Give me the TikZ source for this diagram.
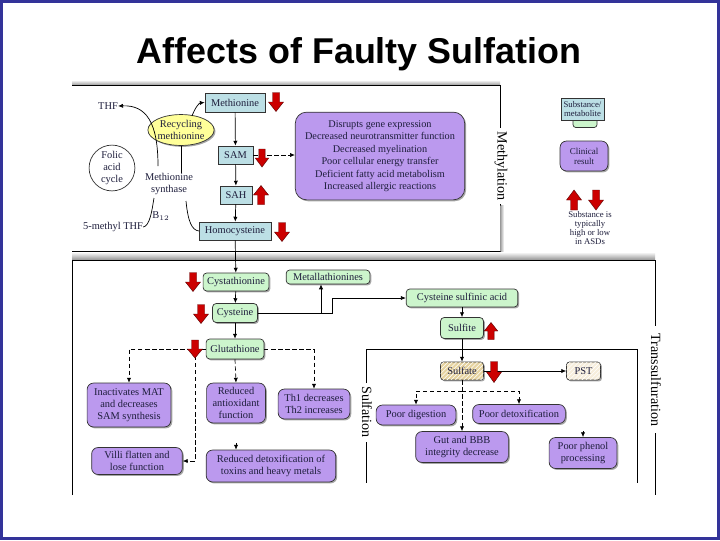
\documentclass[tikz,border=0pt]{standalone}
\usepackage{fontspec}
\setmainfont{Liberation Serif}
\newfontfamily\titlefont{Liberation Sans}
\usetikzlibrary{arrows.meta,shadows,patterns,shapes.geometric}
\definecolor{frameblue}{HTML}{333399}
\definecolor{boxblue}{HTML}{BCDFE5}
\definecolor{boxgreen}{HTML}{CCF5CC}
\definecolor{boxpurple}{HTML}{BB99EE}
\definecolor{boxtan}{HTML}{E6D3A0}
\definecolor{boxtanl}{HTML}{F7EEDC}
\definecolor{arrred}{HTML}{CC0000}
\definecolor{txt}{HTML}{1E1E3C}
\definecolor{ellyel}{HTML}{FFFF99}
\def\u{0.7087pt}
\begin{document}
\begin{tikzpicture}[x=0.025cm,y=-0.025cm,
  base/.style={draw=black!80, line width=0.5pt, text=txt, font=\fontsize{7.4}{8.7}\selectfont, align=center, inner sep=1pt,
    drop shadow={shadow xshift=1pt,shadow yshift=-1pt,opacity=0.35,fill=black}},
  bluebox/.style={base, fill=boxblue, rectangle},
  greenbox/.style={base, fill=boxgreen, rounded corners=2.5pt},
  purplebox/.style={base, fill=boxpurple, rounded corners=4.5pt},
  tanbox/.style={base, fill=#1, rounded corners=2pt, postaction={pattern=north east lines, pattern color=white}},
  sz/.style 2 args={minimum width=#1*\u, minimum height=#2*\u},
  lbl/.style={text=txt, font=\fontsize{7.4}{8.7}\selectfont, align=center, inner sep=0pt},
  conn/.style={draw=black, line width=0.5pt, -{Latex[length=3.5pt,width=3pt]}},
  dconn/.style={conn, dash pattern=on 3pt off 2pt},
  plain/.style={draw=black, line width=0.5pt},
  frameline/.style={draw=black, line width=0.7pt},
  side/.style={font=\fontsize{10}{10}\selectfont, text=black, rotate=-90, inner sep=0pt},
  redarrow/.pic={\path[draw=red!35!black, fill=arrred, line width=0.3pt] (-3.5,-10) -- (3.5,-10) -- (3.5,0) -- (7.5,0) -- (0,10) -- (-7.5,0) -- (-3.5,0) -- cycle;}
]
\useasboundingbox (0,0) rectangle (720,540);
\fill[white] (0,0) rectangle (720,540);
\draw[frameblue, line width=3.5*\u] (1.75,1.75) rectangle (718.25,538.25);

% title
\node[font=\titlefont\bfseries\fontsize{25.5}{29}\selectfont, anchor=base, inner sep=0pt] (title) at (359,63) {Affects of Faulty Sulfation};

% frames
\shade[top color=white, bottom color=black!35] (72,80) rectangle (500,84.5);
\draw[frameline] (72,85) -- (500,85) -- (500,128);
\draw[frameline] (500,204) -- (500,251) -- (72,251);
\shade[left color=black!35, right color=white] (500.5,205) rectangle (504,251);
\node[side] (methlbl) at (501,166) {Methylation};

\shade[top color=white, bottom color=black!40] (72,252) rectangle (655,259.5);
\draw[frameline] (72,495) -- (72,260) -- (655,260) -- (655,326);
\draw[frameline] (655,433) -- (655,495);
\node[side] (translbl) at (656,380) {Transsulfuration};

\draw[frameline] (366,383) -- (366,349) -- (637,349) -- (637,483);
\draw[frameline] (366,442) -- (366,483);
\node[side] (sulflbl) at (367,412) {Sulfation};

% methylation nodes
\node[bluebox, sz={60}{19}] (meth) at (235,102.5) {Methionine};
\node[bluebox, sz={35}{18}] (sam) at (235.5,155) {SAM};
\node[bluebox, sz={32}{18}] (sah) at (236,195) {SAH};
\node[bluebox, sz={72}{18}] (hcy) at (235,231) {Homocysteine};
\node[base, ellipse, fill=ellyel, sz={54}{31}, inner sep=0pt] (rec) at (181,130) {Recycling\\methionine};
\node[draw=black!80, line width=0.5pt, circle, fill=white, minimum size=46*\u, lbl] (folic) at (112,168) {Folic\\acid\\cycle};
\node[lbl] (thf) at (108,106) {THF};
\node[lbl] (msyn) at (169,184) {Methionine\\synthase};
\node[lbl] (b12) at (161,216) {B$_{12}$};
\node[lbl] (mthf) at (113,227) {5-methyl THF};
\node[purplebox, rounded corners=8pt, sz={170}{88}, font=\fontsize{7.3}{8.9}\selectfont] (clin) at (380,156)
  {Disrupts gene expression\\Decreased neurotransmitter function\\Decreased myelination\\Poor cellular energy transfer\\Deficient fatty acid metabolism\\Increased allergic reactions};

% legend
\fill[boxgreen, draw=black!80, line width=0.5pt, rounded corners=2pt] (573,115) -- (573,127.5) -- (597,127.5) -- (597,115);
\node[bluebox, sz={43}{22}, font=\fontsize{6.2}{6.9}\selectfont, inner sep=0pt] (leg1) at (582.5,109) {Substance/\\metabolite};
\node[purplebox, sz={48}{30}, font=\fontsize{6.4}{7.2}\selectfont] (leg2) at (584,156) {Clinical\\result};
\node[lbl, font=\fontsize{6.2}{6.6}\selectfont] (legtxt) at (590,228) {Substance is\\typically\\high or low\\in ASDs};

% transsulfuration nodes
\node[greenbox, sz={66}{18}] (cyst) at (236,282) {Cystathionine};
\node[greenbox, sz={84}{14}] (metal) at (328,277) {Metallathionines};
\node[greenbox, sz={45}{19}] (cys) at (235,313) {Cysteine};
\node[greenbox, sz={112}{18}] (csa) at (462,298) {Cysteine sulfinic acid};
\node[greenbox, sz={43}{21}] (sulfite) at (462,328) {Sulfite};
\node[greenbox, sz={58}{20}] (glut) at (235,349) {Glutathione};
\node[tanbox=boxtan, sz={43}{18}] (sulfate) at (462,371) {Sulfate};
\node[tanbox=boxtanl, sz={34}{18}] (pst) at (583.5,371) {PST};

\node[purplebox, sz={84}{44}] (inact) at (129,405) {Inactivates MAT\\and decreases\\SAM synthesis};
\node[purplebox, sz={59}{40}] (antiox) at (236,403) {Reduced\\antioxidant\\function};
\node[purplebox, sz={72}{30}] (th) at (314,404) {Th1 decreases\\Th2 increases};
\node[purplebox, sz={91}{27}] (villi) at (137,461) {Villi flatten and\\lose function};
\node[purplebox, sz={130}{32}] (detox) at (271,466) {Reduced detoxification of\\toxins and heavy metals};
\node[purplebox, sz={80}{20}] (pdig) at (416,415) {Poor digestion};
\node[purplebox, sz={93}{19}] (pdetox) at (519,414) {Poor detoxification};
\node[purplebox, sz={93}{31}] (gut) at (462,447) {Gut and BBB\\integrity decrease};
\node[purplebox, sz={68}{31}] (phenol) at (583,453) {Poor phenol\\processing};

% methylation connectors
\draw[conn] (meth) -- (sam);
\draw[conn] (sam) -- (sah);
\draw[conn] (sah) -- (hcy);
\draw[dconn] (sam.east) -- (clin.west |- sam.east);
\draw[conn] (158,166) .. controls (158,122) and (146,105) .. (thf.east);
\draw[conn] (192,116) .. controls (195,108) and (199,103) .. (meth.west);
\draw[plain] (rec.south) -- (rec.south |- msyn.north);
\draw[plain] (mthf.east) .. controls (150,226) and (152,210) .. (154,198);
\draw[plain] (186,201) .. controls (188,222) and (192,230) .. (hcy.west);
\draw[conn] (hcy) -- (cyst);

% transsulfuration connectors
\draw[conn] (cyst) -- (cys);
\draw[conn] (cys) -- (glut);
\draw[conn] (cys.east) -- (332,313) -- (332,298) -- (csa.west);
\coordinate (mtin) at (321,313);
\draw[conn] (mtin) -- (mtin |- metal.south);
\draw[conn] (csa) -- (sulfite);
\draw[conn] (sulfite) -- (sulfate);
\draw[conn] (sulfate.east) -- (pst.west);
\draw[dconn] (glut.west) -| (inact.north);
\draw[dconn] (glut.east) -| (th.north);
\coordinate (vfork) at (195,349);
\draw[dconn] (vfork) -- (195,461) -- (villi.east);
\draw[dconn] (glut.south) -- (antiox.north);
\coordinate (dtin) at (236,443);
\draw[conn] (dtin) -- (dtin |- detox.north);
\coordinate (sfork) at (462,391);
\draw[dconn] (sulfate.south) -- (gut.north);
\draw[dconn] (sfork) -| (pdig.north);
\draw[dconn] (sfork) -| (pdetox.north);
\coordinate (phin) at (583,431);
\draw[conn] (phin) -- (phin |- phenol.north);

% red arrows
\pic[yscale=0.95] at (276,102) {redarrow};
\pic[scale=0.9] at (262,158) {redarrow};
\pic[yscale=-0.95] at (261,195) {redarrow};
\pic[yscale=0.95] at (282,232) {redarrow};
\pic[yscale=0.95] at (193,282) {redarrow};
\pic[yscale=0.95] at (201,314) {redarrow};
\pic[yscale=0.9] at (195,349) {redarrow};
\pic[yscale=-0.85,xscale=0.9] at (491,331) {redarrow};
\pic[yscale=1.05] at (494,372) {redarrow};
\pic[yscale=-1] at (574,200) {redarrow};
\pic[yscale=1] at (596,200) {redarrow};
\end{tikzpicture}
\end{document}
